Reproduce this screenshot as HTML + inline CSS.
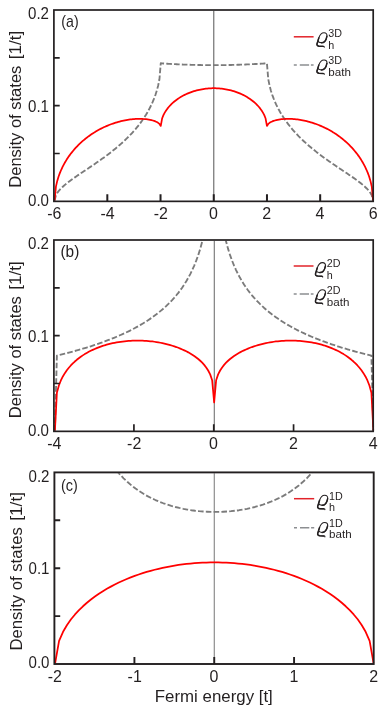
<!DOCTYPE html>
<html><head><meta charset="utf-8"><title>Density of states</title>
<style>
html,body{margin:0;padding:0;background:#fff;}
svg{display:block;font-family:"Liberation Sans",sans-serif;will-change:transform;}
text{fill:#231f20;}
</style></head><body>
<svg width="382" height="714" viewBox="0 0 382 714">
<rect width="382" height="714" fill="#fff"/>

<clipPath id="cp0"><rect x="52.90" y="10.75" width="321.30" height="191.35"/></clipPath>
<g clip-path="url(#cp0)" fill="none" stroke-linejoin="round">
<line x1="213.80" y1="10.00" x2="213.80" y2="201.35" stroke="#555" stroke-width="1"/>
<path d="M54.60,200.65 L55.93,195.24 L57.25,192.95 L58.58,191.15 L59.91,189.61 L61.24,188.23 L62.56,186.96 L63.89,185.76 L65.22,184.63 L66.54,183.54 L67.87,182.49 L69.20,181.48 L70.52,180.49 L71.85,179.52 L73.18,178.57 L74.51,177.63 L75.83,176.71 L77.16,175.79 L78.49,174.89 L79.81,173.99 L81.14,173.09 L82.47,172.20 L83.80,171.31 L85.12,170.43 L86.45,169.54 L87.78,168.65 L89.10,167.76 L90.43,166.87 L91.76,165.98 L93.09,165.08 L94.41,164.17 L95.74,163.26 L97.07,162.34 L98.39,161.42 L99.72,160.49 L101.05,159.55 L102.38,158.60 L103.70,157.64 L105.03,156.67 L106.36,155.69 L107.68,154.70 L109.01,153.69 L110.34,152.67 L111.66,151.63 L112.99,150.58 L114.32,149.51 L115.65,148.43 L116.97,147.32 L118.30,146.20 L119.63,145.05 L120.95,143.88 L122.28,142.69 L123.61,141.47 L124.94,140.22 L126.26,138.95 L127.59,137.64 L128.92,136.31 L130.24,134.93 L131.57,133.52 L132.90,132.07 L134.22,130.58 L135.55,129.04 L136.88,127.45 L138.21,125.80 L139.53,124.09 L140.86,122.32 L142.19,120.48 L143.51,118.55 L144.84,116.53 L146.17,114.41 L147.50,112.18 L148.82,109.81 L150.15,107.29 L151.48,104.57 L152.80,101.64 L154.13,98.41 L155.46,94.81 L156.79,90.69 L158.11,85.74 L159.44,79.21 L160.77,63.22 L162.09,63.38 L163.42,63.46 L164.75,63.55 L166.08,63.63 L167.40,63.72 L168.73,63.80 L170.06,63.88 L171.38,63.96 L172.71,64.03 L174.04,64.11 L175.36,64.18 L176.69,64.24 L178.02,64.31 L179.35,64.37 L180.67,64.43 L182.00,64.49 L183.33,64.55 L184.65,64.60 L185.98,64.65 L187.31,64.70 L188.64,64.74 L189.96,64.78 L191.29,64.83 L192.62,64.86 L193.94,64.90 L195.27,64.93 L196.60,64.96 L197.93,64.99 L199.25,65.02 L200.58,65.04 L201.91,65.06 L203.23,65.08 L204.56,65.10 L205.89,65.12 L207.21,65.13 L208.54,65.14 L209.87,65.15 L211.20,65.15 L212.52,65.16 L213.85,65.16 L215.18,65.16 L216.50,65.15 L217.83,65.15 L219.16,65.14 L220.49,65.13 L221.81,65.12 L223.14,65.10 L224.47,65.08 L225.79,65.06 L227.12,65.04 L228.45,65.02 L229.77,64.99 L231.10,64.96 L232.43,64.93 L233.76,64.90 L235.08,64.86 L236.41,64.83 L237.74,64.78 L239.06,64.74 L240.39,64.70 L241.72,64.65 L243.05,64.60 L244.37,64.55 L245.70,64.49 L247.03,64.43 L248.35,64.37 L249.68,64.31 L251.01,64.24 L252.34,64.18 L253.66,64.11 L254.99,64.03 L256.32,63.96 L257.64,63.88 L258.97,63.80 L260.30,63.72 L261.62,63.63 L262.95,63.55 L264.28,63.46 L265.61,63.38 L266.93,63.22 L268.26,79.21 L269.59,85.74 L270.91,90.69 L272.24,94.81 L273.57,98.41 L274.90,101.64 L276.22,104.57 L277.55,107.29 L278.88,109.81 L280.20,112.18 L281.53,114.41 L282.86,116.53 L284.19,118.55 L285.51,120.48 L286.84,122.32 L288.17,124.09 L289.49,125.80 L290.82,127.45 L292.15,129.04 L293.48,130.58 L294.80,132.07 L296.13,133.52 L297.46,134.93 L298.78,136.31 L300.11,137.64 L301.44,138.95 L302.76,140.22 L304.09,141.47 L305.42,142.69 L306.75,143.88 L308.07,145.05 L309.40,146.20 L310.73,147.32 L312.05,148.43 L313.38,149.51 L314.71,150.58 L316.04,151.63 L317.36,152.67 L318.69,153.69 L320.02,154.70 L321.34,155.69 L322.67,156.67 L324.00,157.64 L325.32,158.60 L326.65,159.55 L327.98,160.49 L329.31,161.42 L330.63,162.34 L331.96,163.26 L333.29,164.17 L334.61,165.08 L335.94,165.98 L337.27,166.87 L338.60,167.76 L339.92,168.65 L341.25,169.54 L342.58,170.43 L343.90,171.31 L345.23,172.20 L346.56,173.09 L347.89,173.99 L349.21,174.89 L350.54,175.79 L351.87,176.71 L353.19,177.63 L354.52,178.57 L355.85,179.52 L357.18,180.49 L358.50,181.48 L359.83,182.49 L361.16,183.54 L362.48,184.63 L363.81,185.76 L365.14,186.96 L366.46,188.23 L367.79,189.61 L369.12,191.15 L370.45,192.95 L371.77,195.24 L373.10,200.65" stroke="#7b7b7b" stroke-width="1.85" stroke-dasharray="5.6 2.2"/>
<path d="M54.60,200.65 L55.93,186.64 L57.25,180.90 L58.58,176.55 L59.91,172.92 L61.24,169.76 L62.56,166.94 L63.89,164.38 L65.22,162.02 L66.54,159.83 L67.87,157.79 L69.20,155.87 L70.52,154.06 L71.85,152.35 L73.18,150.72 L74.51,149.17 L75.83,147.70 L77.16,146.29 L78.49,144.94 L79.81,143.65 L81.14,142.41 L82.47,141.22 L83.80,140.08 L85.12,138.99 L86.45,137.93 L87.78,136.92 L89.10,135.94 L90.43,135.00 L91.76,134.09 L93.09,133.22 L94.41,132.38 L95.74,131.58 L97.07,130.80 L98.39,130.05 L99.72,129.33 L101.05,128.64 L102.38,127.97 L103.70,127.33 L105.03,126.72 L106.36,126.13 L107.68,125.57 L109.01,125.03 L110.34,124.52 L111.66,124.02 L112.99,123.56 L114.32,123.11 L115.65,122.69 L116.97,122.29 L118.30,121.91 L119.63,121.55 L120.95,121.22 L122.28,120.90 L123.61,120.61 L124.94,120.34 L126.26,120.09 L127.59,119.87 L128.92,119.67 L130.24,119.49 L131.57,119.33 L132.90,119.19 L134.22,119.08 L135.55,118.99 L136.88,118.93 L138.21,118.89 L139.53,118.87 L140.86,118.89 L142.19,118.93 L143.51,119.00 L144.84,119.10 L146.17,119.23 L147.50,119.40 L148.82,119.61 L150.15,119.86 L151.48,120.16 L152.80,120.51 L154.13,120.93 L155.46,121.44 L156.79,122.05 L158.11,122.83 L159.44,123.90 L160.77,125.90 L162.09,118.53 L163.42,115.17 L164.75,112.61 L166.08,110.48 L167.40,108.64 L168.73,107.00 L170.06,105.52 L171.38,104.17 L172.71,102.92 L174.04,101.77 L175.36,100.70 L176.69,99.70 L178.02,98.76 L179.35,97.89 L180.67,97.06 L182.00,96.29 L183.33,95.57 L184.65,94.89 L185.98,94.25 L187.31,93.65 L188.64,93.09 L189.96,92.57 L191.29,92.08 L192.62,91.62 L193.94,91.19 L195.27,90.80 L196.60,90.44 L197.93,90.10 L199.25,89.80 L200.58,89.52 L201.91,89.27 L203.23,89.05 L204.56,88.86 L205.89,88.69 L207.21,88.55 L208.54,88.43 L209.87,88.34 L211.20,88.28 L212.52,88.24 L213.85,88.23 L215.18,88.24 L216.50,88.28 L217.83,88.34 L219.16,88.43 L220.49,88.55 L221.81,88.69 L223.14,88.86 L224.47,89.05 L225.79,89.27 L227.12,89.52 L228.45,89.80 L229.77,90.10 L231.10,90.44 L232.43,90.80 L233.76,91.19 L235.08,91.62 L236.41,92.08 L237.74,92.57 L239.06,93.09 L240.39,93.65 L241.72,94.25 L243.05,94.89 L244.37,95.57 L245.70,96.29 L247.03,97.06 L248.35,97.89 L249.68,98.76 L251.01,99.70 L252.34,100.70 L253.66,101.77 L254.99,102.92 L256.32,104.17 L257.64,105.52 L258.97,107.00 L260.30,108.64 L261.62,110.48 L262.95,112.61 L264.28,115.17 L265.61,118.53 L266.93,125.90 L268.26,123.90 L269.59,122.83 L270.91,122.05 L272.24,121.44 L273.57,120.93 L274.90,120.51 L276.22,120.16 L277.55,119.86 L278.88,119.61 L280.20,119.40 L281.53,119.23 L282.86,119.10 L284.19,119.00 L285.51,118.93 L286.84,118.89 L288.17,118.87 L289.49,118.89 L290.82,118.93 L292.15,118.99 L293.48,119.08 L294.80,119.19 L296.13,119.33 L297.46,119.49 L298.78,119.67 L300.11,119.87 L301.44,120.09 L302.76,120.34 L304.09,120.61 L305.42,120.90 L306.75,121.22 L308.07,121.55 L309.40,121.91 L310.73,122.29 L312.05,122.69 L313.38,123.11 L314.71,123.56 L316.04,124.02 L317.36,124.52 L318.69,125.03 L320.02,125.57 L321.34,126.13 L322.67,126.72 L324.00,127.33 L325.32,127.97 L326.65,128.64 L327.98,129.33 L329.31,130.05 L330.63,130.80 L331.96,131.58 L333.29,132.38 L334.61,133.22 L335.94,134.09 L337.27,135.00 L338.60,135.94 L339.92,136.92 L341.25,137.93 L342.58,138.99 L343.90,140.08 L345.23,141.22 L346.56,142.41 L347.89,143.65 L349.21,144.94 L350.54,146.29 L351.87,147.70 L353.19,149.17 L354.52,150.72 L355.85,152.35 L357.18,154.06 L358.50,155.87 L359.83,157.79 L361.16,159.83 L362.48,162.02 L363.81,164.38 L365.14,166.94 L366.46,169.76 L367.79,172.92 L369.12,176.55 L370.45,180.90 L371.77,186.64 L373.10,200.65" stroke="#ff0000" stroke-width="1.75"/>
</g>
<rect x="53.90" y="10.00" width="319.30" height="191.35" fill="none" stroke="#231f20" stroke-width="1.70"/>
<path d="M53.90,153.51h5.8 M53.90,105.67h5.8 M53.90,57.84h5.8" stroke="#231f20" stroke-width="1.70" fill="none"/>
<path d="M107.32,201.35v-7 M160.53,201.35v-7 M213.75,201.35v-7 M266.97,201.35v-7 M320.18,201.35v-7" stroke="#231f20" stroke-width="2.00" fill="none"/>
<text x="54.40" y="219.45" font-size="16.6" text-anchor="middle" textLength="14.2" lengthAdjust="spacingAndGlyphs">-6</text>
<text x="107.62" y="219.45" font-size="16.6" text-anchor="middle" textLength="14.2" lengthAdjust="spacingAndGlyphs">-4</text>
<text x="160.83" y="219.45" font-size="16.6" text-anchor="middle" textLength="14.2" lengthAdjust="spacingAndGlyphs">-2</text>
<text x="213.55" y="219.45" font-size="16.6" text-anchor="middle" textLength="8.9" lengthAdjust="spacingAndGlyphs">0</text>
<text x="266.77" y="219.45" font-size="16.6" text-anchor="middle" textLength="8.9" lengthAdjust="spacingAndGlyphs">2</text>
<text x="319.98" y="219.45" font-size="16.6" text-anchor="middle" textLength="8.9" lengthAdjust="spacingAndGlyphs">4</text>
<text x="373.20" y="219.45" font-size="16.6" text-anchor="middle" textLength="8.9" lengthAdjust="spacingAndGlyphs">6</text>
<text x="49.00" y="18.80" font-size="16.8" text-anchor="end" textLength="21" lengthAdjust="spacingAndGlyphs">0.2</text>
<text x="49.00" y="111.58" font-size="16.8" text-anchor="end" textLength="21" lengthAdjust="spacingAndGlyphs">0.1</text>
<text x="49.00" y="205.75" font-size="16.8" text-anchor="end" textLength="21" lengthAdjust="spacingAndGlyphs">0.0</text>
<text x="61.30" y="27.40" font-size="16.2" textLength="17.3" lengthAdjust="spacingAndGlyphs">(a)</text>
<g transform="translate(21.20,187.68) rotate(-90)" font-size="16.3"><text x="0" y="0" textLength="122.0" lengthAdjust="spacingAndGlyphs">Density of states</text><text x="128.40" y="0" textLength="28.6" lengthAdjust="spacingAndGlyphs">[1/t]</text></g>
<line x1="293.80" y1="36.80" x2="313.60" y2="36.80" stroke="#e2232a" stroke-width="1.5"/>
<path d="M293.80,65.00h3.0m3.0,0h9.3m1.8,0h2.70" stroke="#8c8e91" stroke-width="1.5" fill="none"/>
<g transform="translate(316.60,32.80)" fill="none" stroke="#231f20" stroke-linecap="round" stroke-linejoin="round"><path d="M7.6,14.5 L7.5,13.6 L2.5,13.4 C1.0,13.3 0.1,12.4 0.4,11.1 L2.2,5.2 C3.0,2.6 5.0,0 7.4,0 C9.6,0 10.7,1.4 10.3,3.5 C9.6,7.2 7.4,10 4.8,10 C3.0,10 1.7,9.4 1.3,8.2" stroke-width="1.05"/><path d="M0.4,11.1 L2.2,5.2 M10.3,3.5 C9.6,7.2 7.4,10 4.8,10 M6.5,13.55 L2.5,13.4 C1.0,13.3 0.1,12.4 0.4,11.1" stroke-width="1.5"/></g>
<text x="328.30" y="37.30" font-size="10.9" textLength="13.7" lengthAdjust="spacingAndGlyphs">3D</text>
<text x="328.30" y="48.70" font-size="11.3" textLength="6.0" lengthAdjust="spacingAndGlyphs">h</text>
<g transform="translate(316.60,59.90)" fill="none" stroke="#231f20" stroke-linecap="round" stroke-linejoin="round"><path d="M7.6,14.5 L7.5,13.6 L2.5,13.4 C1.0,13.3 0.1,12.4 0.4,11.1 L2.2,5.2 C3.0,2.6 5.0,0 7.4,0 C9.6,0 10.7,1.4 10.3,3.5 C9.6,7.2 7.4,10 4.8,10 C3.0,10 1.7,9.4 1.3,8.2" stroke-width="1.05"/><path d="M0.4,11.1 L2.2,5.2 M10.3,3.5 C9.6,7.2 7.4,10 4.8,10 M6.5,13.55 L2.5,13.4 C1.0,13.3 0.1,12.4 0.4,11.1" stroke-width="1.5"/></g>
<text x="328.30" y="64.40" font-size="10.9" textLength="13.7" lengthAdjust="spacingAndGlyphs">3D</text>
<text x="328.30" y="75.80" font-size="11.3" textLength="22.6" lengthAdjust="spacingAndGlyphs">bath</text>
<clipPath id="cp1"><rect x="52.90" y="240.75" width="321.30" height="191.35"/></clipPath>
<g clip-path="url(#cp1)" fill="none" stroke-linejoin="round">
<line x1="214.28" y1="240.00" x2="214.28" y2="431.35" stroke="#666" stroke-width="1"/>
<path d="M54.90,430.65 L56.89,355.58 L58.88,355.11 L60.87,354.62 L62.86,354.13 L64.85,353.63 L66.84,353.12 L68.83,352.60 L70.82,352.07 L72.82,351.54 L74.81,350.99 L76.80,350.44 L78.79,349.87 L80.78,349.30 L82.77,348.71 L84.76,348.12 L86.75,347.51 L88.74,346.89 L90.73,346.26 L92.72,345.61 L94.71,344.96 L96.70,344.29 L98.69,343.60 L100.68,342.91 L102.68,342.19 L104.67,341.47 L106.66,340.72 L108.65,339.96 L110.64,339.19 L112.63,338.39 L114.62,337.58 L116.61,336.75 L118.60,335.89 L120.59,335.02 L122.58,334.13 L124.57,333.21 L126.56,332.27 L128.55,331.30 L130.54,330.31 L132.53,329.29 L134.53,328.24 L136.52,327.16 L138.51,326.05 L140.50,324.90 L142.49,323.72 L144.48,322.51 L146.47,321.25 L148.46,319.95 L150.45,318.61 L152.44,317.22 L154.43,315.78 L156.42,314.29 L158.41,312.73 L160.40,311.12 L162.39,309.44 L164.38,307.69 L166.38,305.86 L168.37,303.95 L170.36,301.94 L172.35,299.84 L174.34,297.62 L176.33,295.29 L178.32,292.82 L180.31,290.20 L182.30,287.42 L184.29,284.44 L186.28,281.26 L188.27,277.82 L190.26,274.11 L192.25,270.05 L194.24,265.60 L196.23,260.67 L198.23,255.15 L200.22,248.87 L202.21,241.61 L204.20,233.00 L206.19,222.45 L208.18,208.83 L210.17,189.60 L212.16,183.72 L214.15,183.72 L216.14,183.72 L218.13,189.60 L220.12,208.83 L222.11,222.45 L224.10,233.00 L226.09,241.61 L228.08,248.87 L230.08,255.15 L232.07,260.67 L234.06,265.60 L236.05,270.05 L238.04,274.11 L240.03,277.82 L242.02,281.26 L244.01,284.44 L246.00,287.42 L247.99,290.20 L249.98,292.82 L251.97,295.29 L253.96,297.62 L255.95,299.84 L257.94,301.94 L259.93,303.95 L261.93,305.86 L263.92,307.69 L265.91,309.44 L267.90,311.12 L269.89,312.73 L271.88,314.29 L273.87,315.78 L275.86,317.22 L277.85,318.61 L279.84,319.95 L281.83,321.25 L283.82,322.51 L285.81,323.72 L287.80,324.90 L289.79,326.05 L291.78,327.16 L293.77,328.24 L295.77,329.29 L297.76,330.31 L299.75,331.30 L301.74,332.27 L303.73,333.21 L305.72,334.13 L307.71,335.02 L309.70,335.89 L311.69,336.75 L313.68,337.58 L315.67,338.39 L317.66,339.19 L319.65,339.96 L321.64,340.72 L323.63,341.47 L325.62,342.19 L327.62,342.91 L329.61,343.60 L331.60,344.29 L333.59,344.96 L335.58,345.61 L337.57,346.26 L339.56,346.89 L341.55,347.51 L343.54,348.12 L345.53,348.71 L347.52,349.30 L349.51,349.87 L351.50,350.44 L353.49,350.99 L355.48,351.54 L357.47,352.07 L359.47,352.60 L361.46,353.12 L363.45,353.63 L365.44,354.13 L367.43,354.62 L369.42,355.11 L371.41,355.58 L373.40,430.65" stroke="#7b7b7b" stroke-width="1.85" stroke-dasharray="5.6 2.2"/>
<path d="M54.90,430.65 L56.89,392.76 L58.88,385.52 L60.87,380.47 L62.86,376.48 L64.85,373.15 L66.84,370.27 L68.83,367.73 L70.82,365.46 L72.82,363.40 L74.81,361.52 L76.80,359.80 L78.79,358.22 L80.78,356.75 L82.77,355.38 L84.76,354.12 L86.75,352.94 L88.74,351.83 L90.73,350.80 L92.72,349.84 L94.71,348.95 L96.70,348.11 L98.69,347.33 L100.68,346.60 L102.68,345.92 L104.67,345.29 L106.66,344.71 L108.65,344.17 L110.64,343.67 L112.63,343.21 L114.62,342.80 L116.61,342.42 L118.60,342.08 L120.59,341.78 L122.58,341.51 L124.57,341.28 L126.56,341.08 L128.55,340.91 L130.54,340.78 L132.53,340.69 L134.53,340.62 L136.52,340.59 L138.51,340.59 L140.50,340.62 L142.49,340.68 L144.48,340.78 L146.47,340.91 L148.46,341.07 L150.45,341.26 L152.44,341.49 L154.43,341.75 L156.42,342.05 L158.41,342.37 L160.40,342.74 L162.39,343.14 L164.38,343.57 L166.38,344.05 L168.37,344.56 L170.36,345.12 L172.35,345.72 L174.34,346.36 L176.33,347.05 L178.32,347.79 L180.31,348.58 L182.30,349.43 L184.29,350.34 L186.28,351.31 L188.27,352.36 L190.26,353.49 L192.25,354.70 L194.24,356.02 L196.23,357.45 L198.23,359.02 L200.22,360.75 L202.21,362.69 L204.20,364.88 L206.19,367.43 L208.18,370.49 L210.17,374.41 L212.16,380.17 L214.15,402.50 L216.14,380.17 L218.13,374.41 L220.12,370.49 L222.11,367.43 L224.10,364.88 L226.09,362.69 L228.08,360.75 L230.08,359.02 L232.07,357.45 L234.06,356.02 L236.05,354.70 L238.04,353.49 L240.03,352.36 L242.02,351.31 L244.01,350.34 L246.00,349.43 L247.99,348.58 L249.98,347.79 L251.97,347.05 L253.96,346.36 L255.95,345.72 L257.94,345.12 L259.93,344.56 L261.93,344.05 L263.92,343.57 L265.91,343.14 L267.90,342.74 L269.89,342.37 L271.88,342.05 L273.87,341.75 L275.86,341.49 L277.85,341.26 L279.84,341.07 L281.83,340.91 L283.82,340.78 L285.81,340.68 L287.80,340.62 L289.79,340.59 L291.78,340.59 L293.77,340.62 L295.77,340.69 L297.76,340.78 L299.75,340.91 L301.74,341.08 L303.73,341.28 L305.72,341.51 L307.71,341.78 L309.70,342.08 L311.69,342.42 L313.68,342.80 L315.67,343.21 L317.66,343.67 L319.65,344.17 L321.64,344.71 L323.63,345.29 L325.62,345.92 L327.62,346.60 L329.61,347.33 L331.60,348.11 L333.59,348.95 L335.58,349.84 L337.57,350.80 L339.56,351.83 L341.55,352.94 L343.54,354.12 L345.53,355.38 L347.52,356.75 L349.51,358.22 L351.50,359.80 L353.49,361.52 L355.48,363.40 L357.47,365.46 L359.47,367.73 L361.46,370.27 L363.45,373.15 L365.44,376.48 L367.43,380.47 L369.42,385.52 L371.41,392.76 L373.40,430.65" stroke="#ff0000" stroke-width="1.75"/>
</g>
<rect x="53.90" y="240.00" width="319.30" height="191.35" fill="none" stroke="#231f20" stroke-width="1.70"/>
<path d="M53.90,383.51h5.8 M53.90,335.68h5.8 M53.90,287.84h5.8" stroke="#231f20" stroke-width="1.70" fill="none"/>
<path d="M133.92,431.35v-7 M213.75,431.35v-7 M293.57,431.35v-7" stroke="#231f20" stroke-width="1.70" fill="none"/>
<text x="54.40" y="449.45" font-size="16.6" text-anchor="middle" textLength="14.2" lengthAdjust="spacingAndGlyphs">-4</text>
<text x="134.22" y="449.45" font-size="16.6" text-anchor="middle" textLength="14.2" lengthAdjust="spacingAndGlyphs">-2</text>
<text x="213.55" y="449.45" font-size="16.6" text-anchor="middle" textLength="8.9" lengthAdjust="spacingAndGlyphs">0</text>
<text x="293.38" y="449.45" font-size="16.6" text-anchor="middle" textLength="8.9" lengthAdjust="spacingAndGlyphs">2</text>
<text x="373.20" y="449.45" font-size="16.6" text-anchor="middle" textLength="8.9" lengthAdjust="spacingAndGlyphs">4</text>
<text x="49.00" y="249.40" font-size="16.8" text-anchor="end" textLength="21" lengthAdjust="spacingAndGlyphs">0.2</text>
<text x="49.00" y="341.57" font-size="16.8" text-anchor="end" textLength="21" lengthAdjust="spacingAndGlyphs">0.1</text>
<text x="49.00" y="435.75" font-size="16.8" text-anchor="end" textLength="21" lengthAdjust="spacingAndGlyphs">0.0</text>
<text x="60.50" y="257.40" font-size="16.2" textLength="18.8" lengthAdjust="spacingAndGlyphs">(b)</text>
<g transform="translate(21.20,418.18) rotate(-90)" font-size="16.3"><text x="0" y="0" textLength="122.0" lengthAdjust="spacingAndGlyphs">Density of states</text><text x="128.40" y="0" textLength="28.6" lengthAdjust="spacingAndGlyphs">[1/t]</text></g>
<line x1="293.70" y1="266.00" x2="313.50" y2="266.00" stroke="#e2232a" stroke-width="1.5"/>
<path d="M293.70,293.90h3.0m3.0,0h9.3m1.8,0h2.70" stroke="#8c8e91" stroke-width="1.5" fill="none"/>
<g transform="translate(315.10,262.60)" fill="none" stroke="#231f20" stroke-linecap="round" stroke-linejoin="round"><path d="M7.6,14.5 L7.5,13.6 L2.5,13.4 C1.0,13.3 0.1,12.4 0.4,11.1 L2.2,5.2 C3.0,2.6 5.0,0 7.4,0 C9.6,0 10.7,1.4 10.3,3.5 C9.6,7.2 7.4,10 4.8,10 C3.0,10 1.7,9.4 1.3,8.2" stroke-width="1.05"/><path d="M0.4,11.1 L2.2,5.2 M10.3,3.5 C9.6,7.2 7.4,10 4.8,10 M6.5,13.55 L2.5,13.4 C1.0,13.3 0.1,12.4 0.4,11.1" stroke-width="1.5"/></g>
<text x="326.80" y="267.10" font-size="10.9" textLength="13.7" lengthAdjust="spacingAndGlyphs">2D</text>
<text x="326.80" y="278.50" font-size="11.3" textLength="6.0" lengthAdjust="spacingAndGlyphs">h</text>
<g transform="translate(315.10,289.70)" fill="none" stroke="#231f20" stroke-linecap="round" stroke-linejoin="round"><path d="M7.6,14.5 L7.5,13.6 L2.5,13.4 C1.0,13.3 0.1,12.4 0.4,11.1 L2.2,5.2 C3.0,2.6 5.0,0 7.4,0 C9.6,0 10.7,1.4 10.3,3.5 C9.6,7.2 7.4,10 4.8,10 C3.0,10 1.7,9.4 1.3,8.2" stroke-width="1.05"/><path d="M0.4,11.1 L2.2,5.2 M10.3,3.5 C9.6,7.2 7.4,10 4.8,10 M6.5,13.55 L2.5,13.4 C1.0,13.3 0.1,12.4 0.4,11.1" stroke-width="1.5"/></g>
<text x="326.80" y="294.20" font-size="10.9" textLength="13.7" lengthAdjust="spacingAndGlyphs">2D</text>
<text x="326.80" y="305.60" font-size="11.3" textLength="22.6" lengthAdjust="spacingAndGlyphs">bath</text>
<clipPath id="cp2"><rect x="53.40" y="473.15" width="321.30" height="191.60"/></clipPath>
<g clip-path="url(#cp2)" fill="none" stroke-linejoin="round">
<line x1="214.25" y1="472.40" x2="214.25" y2="664.00" stroke="#777" stroke-width="1"/>
<path d="M55.90,416.04 L59.88,416.04 L63.86,416.04 L67.84,416.04 L71.83,416.04 L75.81,416.04 L79.79,416.04 L83.77,416.04 L87.75,416.04 L91.73,423.80 L95.71,434.47 L99.69,443.54 L103.67,451.36 L107.66,458.16 L111.64,464.13 L115.62,469.41 L119.60,474.10 L123.58,478.30 L127.56,482.07 L131.54,485.46 L135.53,488.53 L139.51,491.30 L143.49,493.81 L147.47,496.09 L151.45,498.16 L155.43,500.03 L159.41,501.72 L163.39,503.26 L167.38,504.64 L171.36,505.87 L175.34,506.98 L179.32,507.96 L183.30,508.82 L187.28,509.57 L191.26,510.21 L195.24,510.75 L199.23,511.18 L203.21,511.52 L207.19,511.75 L211.17,511.90 L215.15,511.94 L219.13,511.90 L223.11,511.75 L227.09,511.52 L231.08,511.18 L235.06,510.75 L239.04,510.21 L243.02,509.57 L247.00,508.82 L250.98,507.96 L254.96,506.98 L258.94,505.87 L262.93,504.64 L266.91,503.26 L270.89,501.72 L274.87,500.03 L278.85,498.16 L282.83,496.09 L286.81,493.81 L290.79,491.30 L294.78,488.53 L298.76,485.46 L302.74,482.07 L306.72,478.30 L310.70,474.10 L314.68,469.41 L318.66,464.13 L322.64,458.16 L326.62,451.36 L330.61,443.54 L334.59,434.47 L338.57,423.80 L342.55,416.04 L346.53,416.04 L350.51,416.04 L354.49,416.04 L358.48,416.04 L362.46,416.04 L366.44,416.04 L370.42,416.04 L374.40,416.04" stroke="#7b7b7b" stroke-width="1.85" stroke-dasharray="5.6 2.2"/>
<path d="M55.10,663.30 L59.08,640.88 L63.06,631.79 L67.04,624.96 L71.03,619.32 L75.01,614.45 L78.99,610.15 L82.97,606.28 L86.95,602.76 L90.93,599.53 L94.91,596.56 L98.89,593.80 L102.88,591.24 L106.86,588.85 L110.84,586.62 L114.82,584.53 L118.80,582.58 L122.78,580.74 L126.76,579.03 L130.74,577.42 L134.72,575.91 L138.71,574.51 L142.69,573.19 L146.67,571.96 L150.65,570.82 L154.63,569.76 L158.61,568.78 L162.59,567.87 L166.57,567.04 L170.56,566.29 L174.54,565.60 L178.52,564.98 L182.50,564.43 L186.48,563.95 L190.46,563.54 L194.44,563.19 L198.43,562.90 L202.41,562.68 L206.39,562.52 L210.37,562.43 L214.35,562.40 L218.33,562.43 L222.31,562.52 L226.29,562.68 L230.28,562.90 L234.26,563.19 L238.24,563.54 L242.22,563.95 L246.20,564.43 L250.18,564.98 L254.16,565.60 L258.14,566.29 L262.12,567.04 L266.11,567.87 L270.09,568.78 L274.07,569.76 L278.05,570.82 L282.03,571.96 L286.01,573.19 L289.99,574.51 L293.98,575.91 L297.96,577.42 L301.94,579.03 L305.92,580.74 L309.90,582.58 L313.88,584.53 L317.86,586.62 L321.84,588.85 L325.82,591.24 L329.81,593.80 L333.79,596.56 L337.77,599.53 L341.75,602.76 L345.73,606.28 L349.71,610.15 L353.69,614.45 L357.68,619.32 L361.66,624.96 L365.64,631.79 L369.62,640.88 L373.60,663.30" stroke="#ff0000" stroke-width="1.75"/>
</g>
<rect x="54.40" y="472.40" width="319.30" height="191.60" fill="none" stroke="#231f20" stroke-width="1.90"/>
<path d="M54.40,616.10h5.8 M54.40,568.20h5.8 M54.40,520.30h5.8" stroke="#231f20" stroke-width="1.90" fill="none"/>
<path d="M134.42,664.00v-7 M214.25,664.00v-7 M294.07,664.00v-7" stroke="#231f20" stroke-width="1.90" fill="none"/>
<text x="54.90" y="682.10" font-size="16.6" text-anchor="middle" textLength="14.2" lengthAdjust="spacingAndGlyphs">-2</text>
<text x="134.72" y="682.10" font-size="16.6" text-anchor="middle" textLength="14.2" lengthAdjust="spacingAndGlyphs">-1</text>
<text x="214.05" y="682.10" font-size="16.6" text-anchor="middle" textLength="8.9" lengthAdjust="spacingAndGlyphs">0</text>
<text x="293.88" y="682.10" font-size="16.6" text-anchor="middle" textLength="8.9" lengthAdjust="spacingAndGlyphs">1</text>
<text x="373.70" y="682.10" font-size="16.6" text-anchor="middle" textLength="8.9" lengthAdjust="spacingAndGlyphs">2</text>
<text x="49.50" y="482.00" font-size="16.8" text-anchor="end" textLength="21" lengthAdjust="spacingAndGlyphs">0.2</text>
<text x="49.50" y="574.10" font-size="16.8" text-anchor="end" textLength="21" lengthAdjust="spacingAndGlyphs">0.1</text>
<text x="49.50" y="668.40" font-size="16.8" text-anchor="end" textLength="21" lengthAdjust="spacingAndGlyphs">0.0</text>
<text x="61.00" y="490.80" font-size="16.2" textLength="16.8" lengthAdjust="spacingAndGlyphs">(c)</text>
<g transform="translate(21.90,650.45) rotate(-90)" font-size="16.3"><text x="0" y="0" textLength="123.2" lengthAdjust="spacingAndGlyphs">Density of states</text><text x="129.63" y="0" textLength="28.9" lengthAdjust="spacingAndGlyphs">[1/t]</text></g>
<line x1="294.00" y1="498.70" x2="314.20" y2="498.70" stroke="#e2232a" stroke-width="1.5"/>
<path d="M294.00,527.70h3.0m3.0,0h9.3m1.8,0h3.10" stroke="#8c8e91" stroke-width="1.5" fill="none"/>
<g transform="translate(317.30,495.30)" fill="none" stroke="#231f20" stroke-linecap="round" stroke-linejoin="round"><path d="M7.6,14.5 L7.5,13.6 L2.5,13.4 C1.0,13.3 0.1,12.4 0.4,11.1 L2.2,5.2 C3.0,2.6 5.0,0 7.4,0 C9.6,0 10.7,1.4 10.3,3.5 C9.6,7.2 7.4,10 4.8,10 C3.0,10 1.7,9.4 1.3,8.2" stroke-width="1.05"/><path d="M0.4,11.1 L2.2,5.2 M10.3,3.5 C9.6,7.2 7.4,10 4.8,10 M6.5,13.55 L2.5,13.4 C1.0,13.3 0.1,12.4 0.4,11.1" stroke-width="1.5"/></g>
<text x="329.00" y="499.80" font-size="10.9" textLength="13.7" lengthAdjust="spacingAndGlyphs">1D</text>
<text x="329.00" y="511.20" font-size="11.3" textLength="6.0" lengthAdjust="spacingAndGlyphs">h</text>
<g transform="translate(317.30,522.40)" fill="none" stroke="#231f20" stroke-linecap="round" stroke-linejoin="round"><path d="M7.6,14.5 L7.5,13.6 L2.5,13.4 C1.0,13.3 0.1,12.4 0.4,11.1 L2.2,5.2 C3.0,2.6 5.0,0 7.4,0 C9.6,0 10.7,1.4 10.3,3.5 C9.6,7.2 7.4,10 4.8,10 C3.0,10 1.7,9.4 1.3,8.2" stroke-width="1.05"/><path d="M0.4,11.1 L2.2,5.2 M10.3,3.5 C9.6,7.2 7.4,10 4.8,10 M6.5,13.55 L2.5,13.4 C1.0,13.3 0.1,12.4 0.4,11.1" stroke-width="1.5"/></g>
<text x="329.00" y="526.90" font-size="10.9" textLength="13.7" lengthAdjust="spacingAndGlyphs">1D</text>
<text x="329.00" y="538.30" font-size="11.3" textLength="22.6" lengthAdjust="spacingAndGlyphs">bath</text>
<text x="213.8" y="701.6" font-size="16.3" text-anchor="middle" textLength="118" lengthAdjust="spacingAndGlyphs">Fermi energy [t]</text>
</svg></body></html>
